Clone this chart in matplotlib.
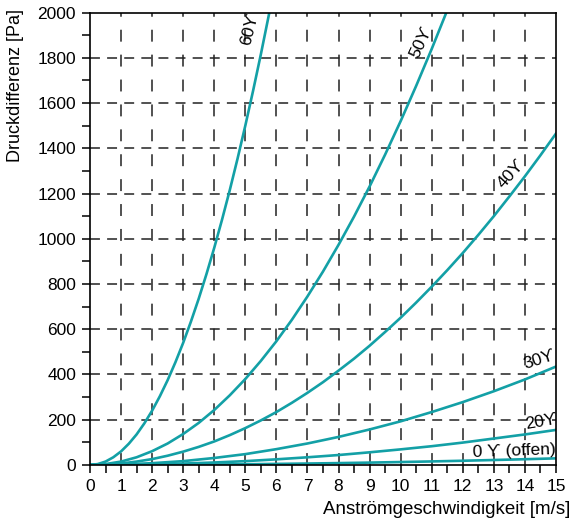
import numpy as np
import matplotlib.pyplot as plt

plt.rcParams['font.family'] = ['Liberation Sans', 'DejaVu Sans']

# Anströmgeschwindigkeit [m/s]
v = [0, 1, 2, 3, 4, 5, 6, 7, 8, 9, 10, 11, 12, 13, 14, 15]
v_60 = [0, 0.25, 0.5, 0.75, 1, 1.25, 1.5, 1.75, 2, 2.25, 2.5, 2.75, 3,
        3.25, 3.5, 3.75, 4, 4.25, 4.5, 4.75, 5, 5.25, 5.5, 5.75, 6]
v_50 = [0, 0.5, 1, 1.5, 2, 2.5, 3, 3.5, 4, 4.5, 5, 5.5, 6, 6.5, 7, 7.5,
        8, 8.5, 9, 9.5, 10, 10.5, 11, 11.5, 12]
v_40 = [0, 0.5, 1, 1.5, 2, 2.5, 3, 3.5, 4, 4.5, 5, 5.5, 6, 6.5, 7, 7.5,
        8, 8.5, 9, 9.5, 10, 10.5, 11, 11.5, 12, 12.5, 13, 13.5, 14, 14.5, 15]

# Druckdifferenz [Pa] je Klappenstellung
dp_60 = [0, 4, 15, 34, 60, 94, 135, 184, 240, 304, 375, 454, 540,
         634, 735, 844, 960, 1084, 1215, 1354, 1500, 1654, 1815, 1984, 2160]
dp_50 = [0, 4, 15, 34, 61, 95, 137, 186, 243, 308, 380, 460, 547, 642, 745, 855,
         973, 1098, 1231, 1372, 1520, 1676, 1839, 2010, 2189]
dp_40 = [0, 2, 6.5, 15, 26, 41, 59, 80, 104, 132, 163, 197, 234, 275, 319, 366,
         417, 470, 527, 588, 651, 718, 788, 861, 937, 1017, 1100, 1187, 1276, 1369, 1465]
dp_30 = [0, 2, 8, 17, 31, 48, 70, 95, 124, 157, 193, 234, 278, 326, 378, 435]
dp_20 = [0, 0.7, 2.8, 6.2, 11, 17, 25, 34, 44, 56, 69, 83, 99, 117, 135, 155]
dp_0 = [0, 0.1, 0.5, 1.2, 2.1, 3.3, 4.7, 6.4, 8.3, 10.5, 13, 15.7, 18.7, 22, 25.5, 29.3]

teal = '#13a0a6'

fig = plt.figure(figsize=(5.72, 5.26), dpi=100)
ax = fig.add_axes([0.1573, 0.1160, 0.8147, 0.8602])

# Kennlinien
ax.plot(v_60, dp_60, color=teal, lw=1.9)
ax.plot(v_50, dp_50, color=teal, lw=1.9)
ax.plot(v_40, dp_40, color=teal, lw=1.9)
ax.plot(v, dp_30, color=teal, lw=1.9)
ax.plot(v, dp_20, color=teal, lw=1.9)
ax.plot(v, dp_0, color=teal, lw=1.9)

ax.set_xlim(0, 15)
ax.set_ylim(0, 2000)

# Gitter gestrichelt
for xv in range(1, 15):
    ax.axvline(xv, color='#222222', lw=1.1, dashes=(7.8, 8.5), zorder=0)
for yv in range(200, 2000, 200):
    ax.axhline(yv, color='#222222', lw=1.1, dashes=(6.5, 4.7), zorder=0)

ax.set_xticks(range(0, 16))
ax.set_xticks(np.arange(0.5, 15, 1), minor=True)
ax.set_yticks(range(0, 2001, 200))
ax.set_yticks(range(100, 2000, 200), minor=True)
ax.tick_params(which='both', direction='out', length=6, width=1.1, color='black')
ax.tick_params(axis='both', which='major', labelsize=12.5)
ax.tick_params(axis='x', pad=4)
ax.tick_params(axis='y', pad=4)

for s in ax.spines.values():
    s.set_linewidth(1.2)

# Beschriftung der Kurven
fs = 12.5
ax.text(5.15, 1925, '60ϒ', rotation=76, ha='center', va='center', fontsize=fs)
ax.text(10.67, 1871, '50ϒ', rotation=65, ha='center', va='center', fontsize=fs)
ax.text(13.57, 1289, '40ϒ', rotation=48, ha='center', va='center', fontsize=fs)
ax.text(14.48, 464, '30ϒ', rotation=18, ha='center', va='center', fontsize=fs)
ax.text(14.54, 191, '20ϒ', rotation=10, ha='center', va='center', fontsize=fs)
ax.text(13.66, 63, '0 ϒ (offen)', rotation=2, ha='center', va='center', fontsize=fs)

fig.text(570.7 / 572, 1 - 509 / 526, 'Anströmgeschwindigkeit [m/s]',
         ha='right', va='center', fontsize=13.5)
fig.text(15.5 / 572, 1 - 9 / 526, 'Druckdifferenz [Pa]', rotation=90,
         ha='center', va='top', fontsize=13)

fig.savefig('out.png', dpi=100)
